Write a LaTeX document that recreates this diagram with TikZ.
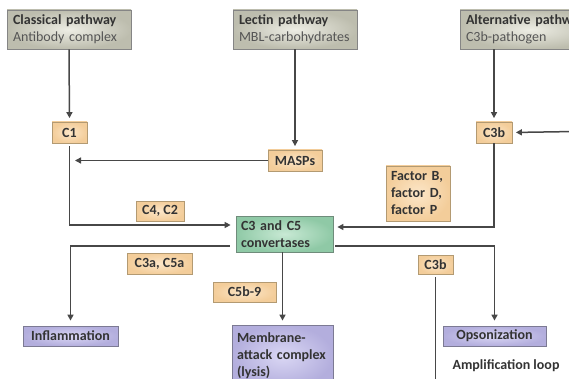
\documentclass[tikz,border=0pt]{standalone}
\usepackage{fontspec}
\setmainfont{Carlito}
\usetikzlibrary{arrows.meta,calc}
\definecolor{ln}{HTML}{474747}
\definecolor{txt}{HTML}{333333}
\definecolor{txtg}{HTML}{555555}
\definecolor{grayin}{HTML}{EDEDE4}
\definecolor{grayout}{HTML}{BDBDAE}
\definecolor{grayb}{HTML}{858585}
\definecolor{orin}{HTML}{FCE6C8}
\definecolor{orout}{HTML}{F3CD9A}
\definecolor{orb}{HTML}{B39A72}
\definecolor{grin}{HTML}{C8E9D4}
\definecolor{grout}{HTML}{8FC9A6}
\definecolor{grb}{HTML}{6F8C7B}
\definecolor{puin}{HTML}{DAD7F4}
\definecolor{puout}{HTML}{B3AEDD}
\definecolor{pub}{HTML}{7C7A93}
\tikzset{
  basebox/.style={line width=0.8pt, inner sep=0pt, text=txt,
    font=\fontsize{14}{17}\selectfont\bfseries},
  graybox/.style={basebox, draw=grayb, inner color=grayin, outer color=grayout,
    font=\fontsize{14}{17}\selectfont},
  orbox/.style={basebox, draw=orb, inner color=orin, outer color=orout},
  grbox/.style={basebox, draw=grb, inner color=grin, outer color=grout},
  pubox/.style={basebox, draw=pub, inner color=puin, outer color=puout},
  ln/.style={draw=ln, line width=1.5pt},
  arr/.style={ln, -{Triangle[length=6pt,width=6pt]}, shorten >=3.5pt},
}
\begin{document}
\begin{tikzpicture}[x=1pt,y=-1pt]
\useasboundingbox (0,0) rectangle (569,379);
\clip (0,0) rectangle (569,379);
\fill[white] (0,0) rectangle (569,379);

% top pathway boxes
\node[graybox, minimum width=124pt, minimum height=39pt, text width=112pt, align=left]
  (cl) at (69,29.5) {\textbf{Classical pathway}\\\textcolor{txtg}{Antibody complex}};
\node[graybox, minimum width=124pt, minimum height=39pt, text width=112pt, align=left]
  (le) at (295,29.5) {\textbf{Lectin pathway}\\\textcolor{txtg}{MBL-carbohydrates}};
\node[graybox, minimum width=140pt, minimum height=39pt, text width=128pt, align=left]
  (al) at (530,29.5) {\textbf{Alternative pathway}\\\textcolor{txtg}{C3b-pathogen}};

% orange boxes
\node[orbox, minimum width=35pt, minimum height=21pt] (c1) at (69.5,132.5) {C1};
\node[orbox, minimum width=54pt, minimum height=21pt] (masps) at (295,160.5) {MASPs};
\node[orbox, minimum width=36pt, minimum height=21pt] (c3b) at (494,132.5) {C3b};
\node[orbox, minimum width=64pt, minimum height=55pt, text width=54pt, align=left]
  (fac) at (418,193.5) {Factor B,\\factor D,\\factor P};
\node[orbox, minimum width=48pt, minimum height=20pt] (c4c2) at (160,211) {C4, C2};
\node[orbox, minimum width=65pt, minimum height=21pt] (c3a) at (159.5,263.5) {C3a, C5a};
\node[orbox, minimum width=63pt, minimum height=20pt] (c5b) at (244.5,292) {C5b-9};
\node[orbox, minimum width=35pt, minimum height=19pt] (c3bl) at (435.5,264.5) {C3b};

% convertases
\node[grbox, minimum width=97pt, minimum height=36pt, text width=87pt, align=left]
  (conv) at (284.5,234) {C3 and C5\\convertases};

% outcome boxes
\node[pubox, minimum width=95pt, minimum height=20pt] (infl) at (70.5,336) {Inflammation};
\node[pubox, minimum width=101pt, minimum height=62pt, text width=91pt, align=left]
  (mac) at (282.5,356) {Membrane-\\attack complex\\(lysis)};
\node[pubox, minimum width=103pt, minimum height=20pt] (ops) at (494.5,336) {Opsonization};
\node[text=txt, font=\fontsize{14}{17}\selectfont\bfseries, inner sep=0pt]
  (amp) at (506,366) {Amplification loop};

% free ends
\coordinate (c1hit) at (75,160.5);
\coordinate (redge) at (575,131.5);
\coordinate (bot) at (435.5,390);

% connectors
\draw[arr] (cl.south) -- (c1.north);
\draw[arr] (le.south) -- (masps.north);
\draw[arr, shorten >=0pt] (masps.west) -- (c1hit);
\draw[arr, shorten <=3pt, shorten >=5pt] (c1.south) |- ($(conv.west)+(0,-9)$);
\draw[arr] (c3b.north |- al.south) -- (c3b.north);
\draw[arr] (redge) -- (c3b.east);
\draw[arr, shorten >=4pt] (c3b.south) |- ($(conv.east)+(0,-7)$);
\draw[arr, shorten >=5pt] ($(conv.west)+(-6,12)$) -| (infl.north);
\draw[arr, shorten >=5pt] ($(conv.east)+(2,12)$) -| (ops.north);
\draw[arr, shorten >=4pt] (conv.south -| mac.north) -- (mac.north);
\draw[ln] ($(c3bl.south)+(0,3)$) -- (bot);
\end{tikzpicture}
\end{document}
